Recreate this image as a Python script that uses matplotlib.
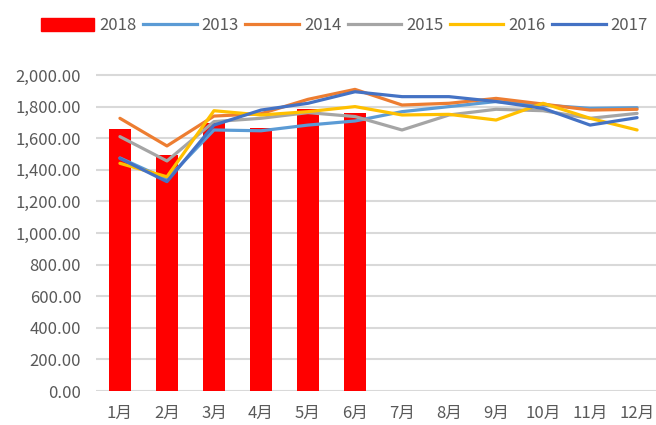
import numpy as np
import matplotlib.pyplot as plt
from matplotlib.patches import Patch
from matplotlib.lines import Line2D
from matplotlib.ticker import FuncFormatter

plt.rcParams['font.family'] = ['Noto Sans CJK SC', 'DejaVu Sans']

months = ["1月", "2月", "3月", "4月", "5月", "6月", "7月", "8月", "9月", "10月", "11月", "12月"]
y2018 = [1658, 1494, 1696, 1665, 1785, 1759]
y2013 = [1475, 1340, 1652, 1647, 1683, 1709, 1768, 1800, 1832, 1810, 1789, 1793]
y2014 = [1726, 1551, 1740, 1755, 1846, 1909, 1810, 1821, 1852, 1816, 1778, 1783]
y2015 = [1610, 1456, 1705, 1726, 1762, 1737, 1652, 1747, 1783, 1774, 1726, 1757]
y2016 = [1441, 1356, 1774, 1747, 1768, 1800, 1747, 1751, 1715, 1821, 1726, 1652]
y2017 = [1472, 1325, 1683, 1778, 1821, 1894, 1863, 1863, 1832, 1789, 1683, 1730]

line_series = [("2013", y2013, "#5B9BD5"), ("2014", y2014, "#ED7D31"),
               ("2015", y2015, "#A5A5A5"), ("2016", y2016, "#FFC000"),
               ("2017", y2017, "#4472C4")]

fig = plt.figure(figsize=(6.56, 4.25), dpi=100)
ax = fig.add_axes([0.147, 0.08, 0.86, 0.7807])

x = np.arange(1, 13)
ax.bar(x[:len(y2018)], y2018, width=0.45, color="#FF0000", zorder=2)
for name, vals, col in line_series:
    ax.plot(x, vals, color=col, lw=2.3, zorder=3, solid_capstyle="round")

ax.set_xlim(0.5, 12.5)
ax.set_ylim(0, 2100)
ax.set_yticks(np.arange(0, 2001, 200))
ax.yaxis.set_major_formatter(FuncFormatter(lambda v, p: "{:,.2f}".format(v)))
ax.set_xticks(x)
ax.set_xticklabels(months)
ax.grid(axis="y", color="#D9D9D9", lw=1.5, zorder=0)
ax.set_axisbelow(True)
for s in ax.spines.values():
    s.set_visible(False)
ax.tick_params(length=0, colors="#595959", labelsize=12)
ax.tick_params(axis="y", pad=11)
ax.tick_params(axis="x", pad=10)

handles = [Patch(color="#FF0000", label="2018")]
for name, vals, col in line_series:
    handles.append(Line2D([0], [0], color=col, lw=2.3, label=name))
leg = fig.legend(handles=handles, loc="center", bbox_to_anchor=(0.525, 0.939), ncol=6,
                 frameon=False, fontsize=12, handlelength=3.2, handleheight=0.8,
                 handletextpad=0.3, columnspacing=0.4)
for t in leg.get_texts():
    t.set_color("#595959")

fig.savefig("out.png", dpi=100)
